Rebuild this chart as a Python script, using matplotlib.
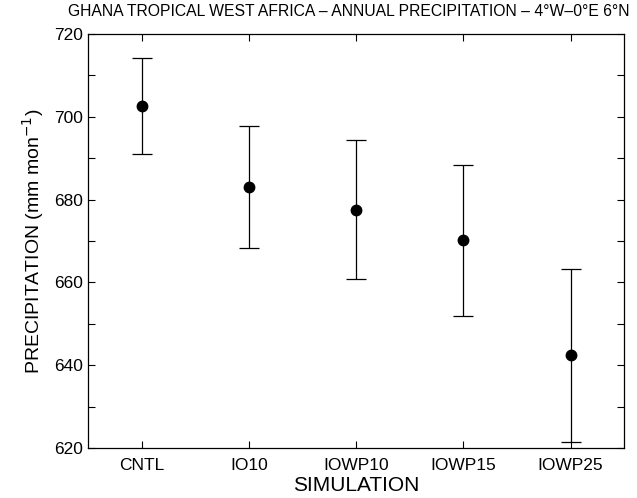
import matplotlib
matplotlib.use("Agg")
import matplotlib.pyplot as plt
from matplotlib.ticker import MultipleLocator

plt.rcParams['font.family'] = ['Liberation Sans', 'DejaVu Sans']

# annual precipitation per simulation, with error bar half-widths
simulations = ["CNTL", "IO10", "IOWP10", "IOWP15", "IOWP25"]
precip = [702.6, 683.0, 677.6, 670.2, 642.5]
err_lo = [11.6, 14.7, 16.7, 18.2, 21.0]
err_hi = [11.6, 14.8, 16.9, 18.1, 20.7]

fig, ax = plt.subplots(figsize=(6.37, 4.98), dpi=100)
fig.subplots_adjust(left=0.138, right=0.98, top=0.932, bottom=0.1)

x = list(range(len(simulations)))
ax.errorbar(x, precip, yerr=[err_lo, err_hi], fmt='o', color='black',
            markersize=7.5, ecolor='black', elinewidth=0.9, capsize=7.3,
            capthick=0.9)

ax.set_xlim(-0.5, 4.5)
ax.set_ylim(620, 720)
ax.set_xticks(x)
ax.set_xticklabels(simulations)
ax.yaxis.set_major_locator(MultipleLocator(20))
ax.yaxis.set_minor_locator(MultipleLocator(10))

ax.tick_params(which='both', direction='in', top=True, right=True,
               labelsize=12.5, width=0.8, length=5)
ax.tick_params(axis='x', pad=7)
for s in ax.spines.values():
    s.set_linewidth(0.9)

ax.set_xlabel("SIMULATION", fontsize=15, labelpad=2)
ax.set_ylabel("PRECIPITATION (mm mon$^{-1}$)", fontsize=14, labelpad=6)
fig.text(0.989, 0.962,
         "GHANA TROPICAL WEST AFRICA \u2013 ANNUAL PRECIPITATION \u2013 4\u00b0W\u20130\u00b0E 6\u00b0N",
         fontsize=11.3, ha='right', va='bottom')

plt.savefig("out.png", dpi=100)
